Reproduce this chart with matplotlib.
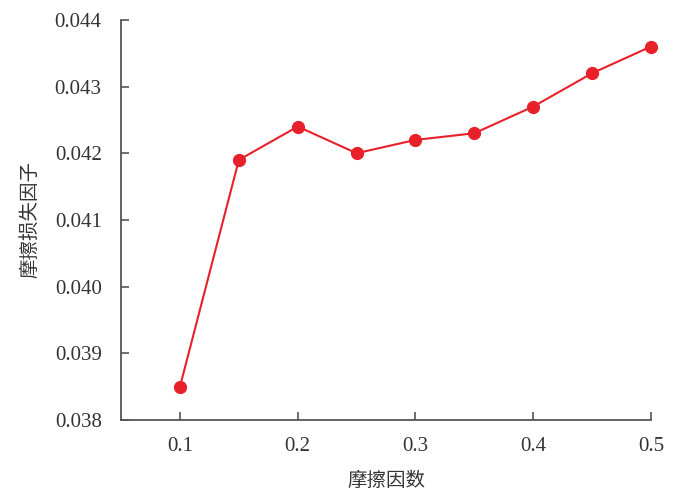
import matplotlib
matplotlib.use("Agg")
import matplotlib.pyplot as plt

friction = [0.10, 0.15, 0.20, 0.25, 0.30, 0.35, 0.40, 0.45, 0.50]
loss_factor = [0.0385, 0.0419, 0.0424, 0.0420, 0.0422, 0.0423, 0.0427, 0.0432, 0.0436]
x_ticks = [0.1, 0.2, 0.3, 0.4, 0.5]
y_ticks = [0.038, 0.039, 0.040, 0.041, 0.042, 0.043, 0.044]

num_font = ["Liberation Serif", "DejaVu Serif"]
cjk_font = ["Noto Sans CJK SC", "DejaVu Sans"]

fig = plt.figure(figsize=(7.0, 4.97), dpi=100)
ax = fig.add_axes([0.173, 0.155, 0.757, 0.805])

ax.plot(friction, loss_factor, color="#e8202a", lw=1.5, marker="o", ms=8.5, clip_on=False)

ax.set_xlim(0.05, 0.5)
ax.set_ylim(0.038, 0.044)
ax.set_xticks(x_ticks)
ax.set_xticklabels([f"{v:.1f}" for v in x_ticks], fontfamily=num_font, fontsize=15)
ax.set_yticks(y_ticks)
ax.set_yticklabels([f"{v:.3f}" for v in y_ticks], fontfamily=num_font, fontsize=15)

for side in ("top", "right"):
    ax.spines[side].set_visible(False)
for side in ("left", "bottom"):
    ax.spines[side].set_color("#555555")
    ax.spines[side].set_linewidth(1.3)
ax.tick_params(direction="in", length=6, width=1.2, color="#555555", labelcolor="#333333")
ax.tick_params(axis="y", pad=14)
ax.tick_params(axis="x", pad=12)

ax.set_xlabel("摩擦因数", fontfamily=cjk_font, fontsize=14, color="#333333", labelpad=10)
ax.set_ylabel("摩擦损失因子", fontfamily=cjk_font, fontsize=14, color="#333333", labelpad=10)

fig.savefig("out.png", dpi=100)
